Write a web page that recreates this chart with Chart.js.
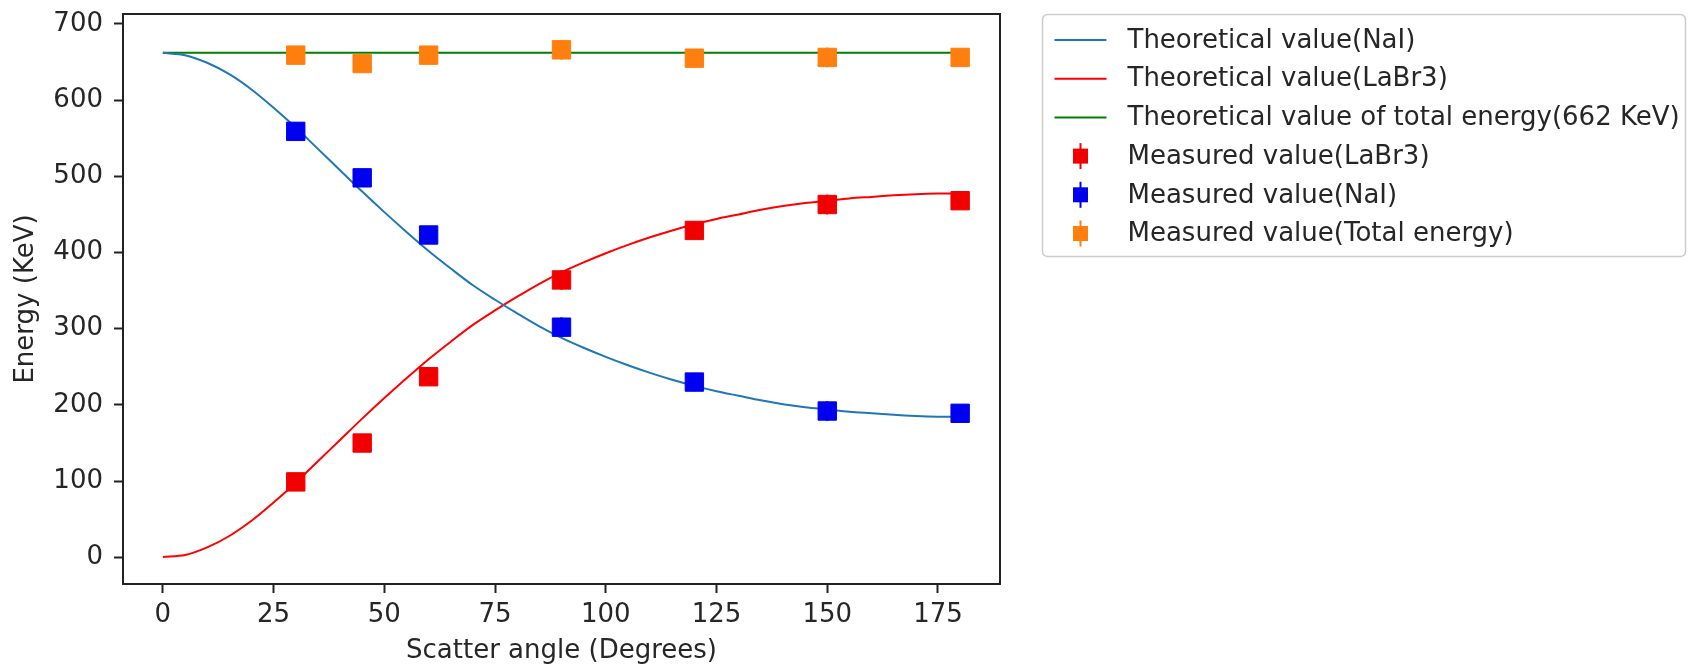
<!DOCTYPE html>
<html>
<head>
<meta charset="utf-8">
<script src="https://cdn.jsdelivr.net/npm/chart.js@4.4.1/dist/chart.umd.min.js"></script>
<style>
  html, body { margin: 0; padding: 0; background: #fff; overflow: hidden; }
  #wrap { width: 1688px; height: 667px; position: relative; }
</style>
</head>
<body>
<div id="wrap"><canvas id="energyChart"></canvas></div>
<script>
// theoretical curves, every 5 degrees
const curveAngles = [0, 5, 10, 15, 20, 25, 30, 35, 40, 45, 50, 55, 60, 65, 70, 75, 80, 85, 90,
  95, 100, 105, 110, 115, 120, 125, 130, 135, 140, 145, 150, 155, 160, 165, 170, 175, 180];
const naiCurve = [662, 659, 649, 634, 614, 590, 564, 536, 508, 480, 453, 427, 402, 379, 357, 338, 320, 303, 288,
  275, 263, 252, 242, 233, 225, 218, 212, 206, 201, 197, 194, 191, 189, 187, 185.5, 184.6, 184.4];
const labrCurve = [0.5, 3, 13, 28, 48, 72, 98, 126, 154, 182, 209, 235, 260, 283, 305, 324, 342, 359, 374,
  387, 399, 410, 420, 429, 437, 444, 450, 456, 461, 465, 468, 471, 473, 475, 476.5, 477.4, 477.6];
const totalAngles = [0, 180];
const totalCurve = [662, 662];

// measured points
const measuredAngles = [30, 45, 60, 90, 120, 150, 180];
const labrMeasured = [99, 150, 237, 364, 429, 463, 468];
const naiMeasured = [559, 498, 423, 302, 230, 192, 189];
const totalMeasured = [659, 648, 659, 666, 655, 656, 656];
const measuredErr = [12, 12, 12, 13, 12, 13, 12];

const xTickValues = [0, 25, 50, 75, 100, 125, 150, 175];
const yTickValues = [0, 100, 200, 300, 400, 500, 600, 700];

const FONT = 'DejaVu Sans';
const FONT_SIZE = 26;
const TEXT_COLOR = '#262626';

function points(xs, ys) {
  return xs.map((x, i) => ({ x: x, y: ys[i] }));
}

// vertical error bars drawn just before each measured dataset's markers
const errorBars = {
  id: 'errorBars',
  beforeDatasetDraw(chart, args) {
    const ds = chart.data.datasets[args.index];
    if (!ds.errors) return;
    const { ctx, scales: { x, y } } = chart;
    ctx.save();
    ctx.strokeStyle = ds.backgroundColor;
    ctx.lineWidth = 2;
    ds.data.forEach((p, i) => {
      const px = x.getPixelForValue(p.x);
      ctx.beginPath();
      ctx.moveTo(px, y.getPixelForValue(p.y - ds.errors[i]));
      ctx.lineTo(px, y.getPixelForValue(p.y + ds.errors[i]));
      ctx.stroke();
    });
    ctx.restore();
  }
};

// frame round the plot + boxed legend to the right (matplotlib style)
const frameAndLegend = {
  id: 'frameAndLegend',
  afterDraw(chart) {
    const { ctx, chartArea } = chart;
    ctx.save();
    ctx.strokeStyle = '#222';
    ctx.lineWidth = 2;
    ctx.strokeRect(chartArea.left, chartArea.top, chartArea.right - chartArea.left, chartArea.bottom - chartArea.top);

    const bx = chartArea.right + 42.5;
    const by = chartArea.top + 0.5;
    ctx.fillStyle = 'rgba(255,255,255,0.8)';
    ctx.strokeStyle = '#cccccc';
    ctx.lineWidth = 1.5;
    ctx.beginPath();
    ctx.roundRect(bx, by, 643, 242, 5);
    ctx.fill();
    ctx.stroke();

    ctx.font = FONT_SIZE + 'px "' + FONT + '"';
    ctx.textBaseline = 'middle';
    ctx.textAlign = 'left';
    chart.data.datasets.forEach((ds, i) => {
      const ry = by + 25.5 + i * 38.7;
      if (ds.showLine) {
        ctx.strokeStyle = ds.borderColor;
        ctx.lineWidth = ds.borderWidth;
        ctx.beginPath();
        ctx.moveTo(bx + 12, ry);
        ctx.lineTo(bx + 64, ry);
        ctx.stroke();
      } else {
        const cx = bx + 38;
        ctx.strokeStyle = ds.backgroundColor;
        ctx.lineWidth = 2;
        ctx.beginPath();
        ctx.moveTo(cx, ry - 13);
        ctx.lineTo(cx, ry + 13);
        ctx.stroke();
        ctx.fillStyle = ds.backgroundColor;
        ctx.fillRect(cx - 7.5, ry - 7.5, 15, 15);
      }
      ctx.fillStyle = TEXT_COLOR;
      ctx.fillText(ds.label, bx + 85, ry + 1);
    });
    ctx.restore();
  }
};

const ctx = document.getElementById('energyChart').getContext('2d');
new Chart(ctx, {
  type: 'scatter',
  data: {
    datasets: [
      {
        label: 'Theoretical value(NaI)',
        data: points(curveAngles, naiCurve),
        showLine: true,
        borderColor: '#1f77b4',
        borderWidth: 2,
        pointRadius: 0,
        tension: 0.3,
        order: 1
      },
      {
        label: 'Theoretical value(LaBr3)',
        data: points(curveAngles, labrCurve),
        showLine: true,
        borderColor: '#ff0000',
        borderWidth: 2,
        pointRadius: 0,
        tension: 0.3,
        order: 1
      },
      {
        label: 'Theoretical value of total energy(662 KeV)',
        data: points(totalAngles, totalCurve),
        showLine: true,
        borderColor: '#008000',
        borderWidth: 2,
        pointRadius: 0,
        order: 1
      },
      {
        label: 'Measured value(LaBr3)',
        data: points(measuredAngles, labrMeasured),
        errors: measuredErr,
        pointStyle: 'rect',
        pointRadius: 13,
        backgroundColor: '#f00000',
        borderColor: '#f00000',
        borderWidth: 1,
        order: 0
      },
      {
        label: 'Measured value(NaI)',
        data: points(measuredAngles, naiMeasured),
        errors: measuredErr,
        pointStyle: 'rect',
        pointRadius: 13,
        backgroundColor: '#0000f0',
        borderColor: '#0000f0',
        borderWidth: 1,
        order: 0
      },
      {
        label: 'Measured value(Total energy)',
        data: points(measuredAngles, totalMeasured),
        errors: measuredErr,
        pointStyle: 'rect',
        pointRadius: 13,
        backgroundColor: '#ff7f0e',
        borderColor: '#ff7f0e',
        borderWidth: 1,
        order: 0
      }
    ]
  },
  options: {
    responsive: true,
    maintainAspectRatio: false,
    animation: false,
    layout: { padding: { top: 13, right: 688, left: 0, bottom: 0 } },
    plugins: {
      legend: { display: false },
      tooltip: { enabled: false }
    },
    scales: {
      x: {
        type: 'linear',
        min: -9,
        max: 189,
        afterFit: (s) => { s.height = 83; s.paddingLeft = 0; s.paddingRight = 0; },
        afterBuildTicks: (s) => { s.ticks = xTickValues.map(v => ({ value: v })); },
        grid: { drawOnChartArea: false, drawTicks: true, tickLength: 9, tickWidth: 2, color: '#222' },
        border: { display: false },
        ticks: { color: TEXT_COLOR, font: { family: FONT, size: FONT_SIZE }, padding: 7, maxRotation: 0 },
        title: {
          display: true,
          text: 'Scatter angle (Degrees)',
          color: TEXT_COLOR,
          font: { family: FONT, size: FONT_SIZE, lineHeight: 1 },
          padding: { top: 0, bottom: 3 }
        }
      },
      y: {
        type: 'linear',
        min: -35,
        max: 713,
        afterFit: (s) => { s.width = 123; s.paddingTop = 0; s.paddingBottom = 0; },
        afterBuildTicks: (s) => { s.ticks = yTickValues.map(v => ({ value: v })); },
        grid: { drawOnChartArea: false, drawTicks: true, tickLength: 9, tickWidth: 2, color: '#222' },
        border: { display: false },
        ticks: { color: TEXT_COLOR, font: { family: FONT, size: FONT_SIZE }, padding: 11 },
        title: {
          display: true,
          text: 'Energy (KeV)',
          color: TEXT_COLOR,
          font: { family: FONT, size: FONT_SIZE, lineHeight: 1 },
          padding: { top: 13, bottom: 0 }
        }
      }
    }
  },
  plugins: [errorBars, frameAndLegend]
});
</script>
</body>
</html>
